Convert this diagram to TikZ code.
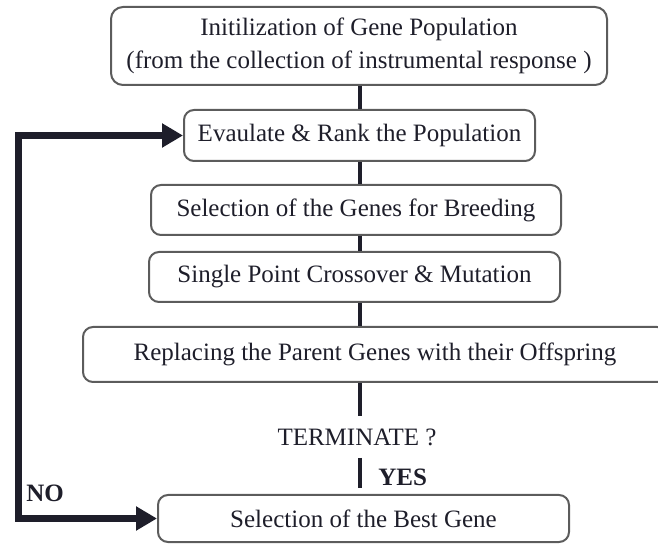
\documentclass[tikz,border=0pt]{standalone}
\usepackage{fontspec}
\setmainfont{Liberation Serif}
\usepackage{xcolor}
\usepackage{tikz}
\usetikzlibrary{arrows.meta}
\definecolor{inkc}{HTML}{1E1E2A}
\definecolor{edgec}{HTML}{5C5C5C}

\begin{document}
\begin{tikzpicture}[x=0.5pt,y=-0.5pt,
  every node/.style={font=\fontsize{12.5}{16.5}\selectfont,text=inkc},
  stepbox/.style={draw=edgec,line width=1pt,rounded corners=5pt,inner sep=0pt,align=center},
  link/.style={draw=inkc,line width=1.7pt},
  loopback/.style={draw=inkc,line width=3.5pt,{Triangle[length=10.5pt,width=11.5pt]}-{Triangle[length=10.5pt,width=11.5pt]}},
  tag/.style={font=\fontsize{12.5}{15}\selectfont\bfseries,inner sep=0pt}]
\useasboundingbox (0,0) rectangle (658,544);
\clip (0,0) rectangle (658,544);
\coordinate (spine) at (360,0);
\coordinate (loopx) at (18,0);
\node[stepbox,rounded corners=6pt,minimum width=248pt,minimum height=39pt] (init) at (359,46)
  {Initilization of Gene Population\\(from the collection of instrumental response )};
\node[stepbox,minimum width=175.5pt,minimum height=25.5pt] (eval) at (359.5,135.5) {Evaulate \& Rank the Population};
\node[stepbox,minimum width=205pt,minimum height=25pt] (select) at (356,210) {Selection of the Genes for Breeding};
\node[stepbox,minimum width=205.5pt,minimum height=25pt] (cross) at (354.5,277) {Single Point Crossover \& Mutation};
\node[stepbox,minimum width=292pt,minimum height=27.5pt] (replace) at (375,354.5) {Replacing the Parent Genes with their Offspring};
\node[inner xsep=0pt,inner ysep=6pt] (term) at (357,437) {TERMINATE ?};
\coordinate (yesend) at (360,488);
\node[tag,anchor=west] (yes) at (378,477) {YES};
\node[stepbox,minimum width=205.5pt,minimum height=23.5pt] (best) at (363.5,518.5) {Selection of the Best Gene};
\node[tag,anchor=west] (no) at (26,493) {NO};
\draw[link] (init.south -| spine) -- (eval.north -| spine);
\draw[link] (eval.south -| spine) -- (select.north -| spine);
\draw[link] (select.south -| spine) -- (cross.north -| spine);
\draw[link] (cross.south -| spine) -- (replace.north -| spine);
\draw[link] (replace.south -| spine) -- (term.north -| spine);
\draw[link] (term.south -| spine) -- (yesend);
\draw[loopback] (best.west) -- (best.west -| loopx) |- (eval.west);
\end{tikzpicture}
\end{document}
